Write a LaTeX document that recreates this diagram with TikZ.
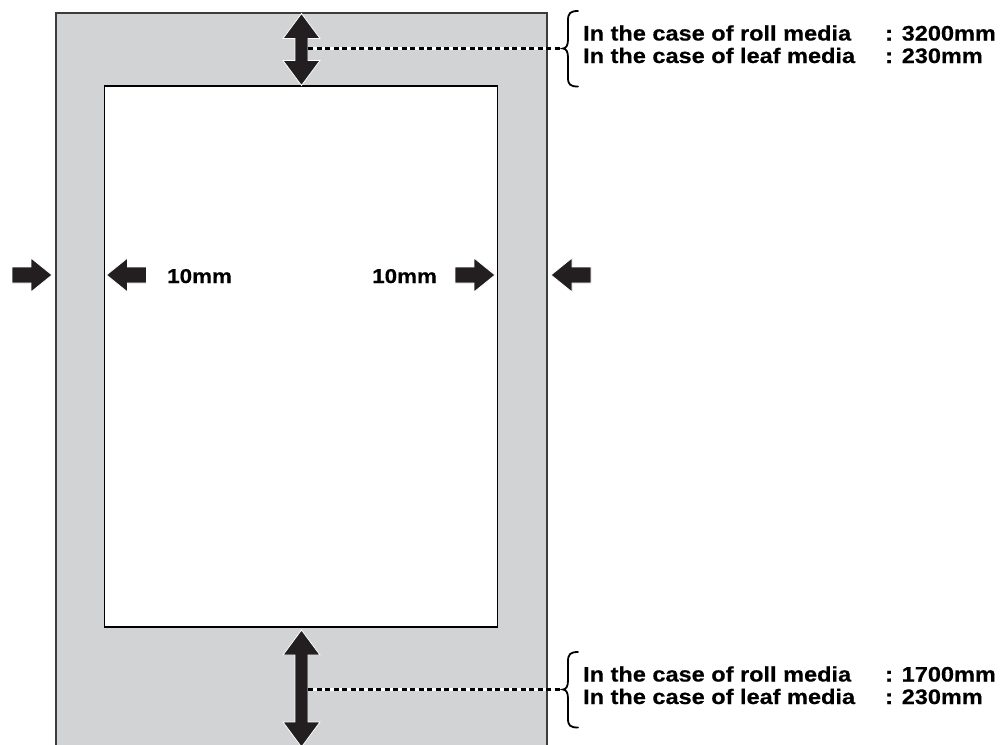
\documentclass[tikz,border=0pt]{standalone}
\usepackage{fontspec}
\setmainfont{Liberation Sans}
\newfontfamily\lblfont[FakeStretch=1.12, FakeBold=0.5]{Liberation Sans}
\usetikzlibrary{positioning, calc}
\definecolor{cMedia}{RGB}{210,211,213}
\definecolor{cEdge}{RGB}{60,60,60}
\definecolor{cArrow}{RGB}{35,31,32}
\tikzset{
	media/.style    ={draw=cEdge, line width=2pt, fill=cMedia},
	printarea/.style={draw=black, line width=1.3pt, fill=white},
	blockarrow/.style={fill=cArrow, draw=white, line width=0.8pt, line join=miter},
	leaderbg/.style ={draw=white, line width=3pt},
	leader/.style   ={draw=black, line width=2.5pt, dash pattern=on 5pt off 3.5pt},
	brace/.style    ={draw=black, line width=1.8pt, line cap=round},
	lbl/.style      ={font=\lblfont\bfseries\fontsize{21}{24}\selectfont, inner sep=0pt, anchor=base west},
	gaplbl/.style   ={lbl, font=\lblfont\bfseries\fontsize{20}{23}\selectfont},
}

\begin{document}
\begin{tikzpicture}[x=1pt, y=-1pt]
	\useasboundingbox (0,0) rectangle (1000,744);
	% media and printable area
	\draw[media] (56,13) rectangle (547,760);
	\draw[printarea] (104.5,86) rectangle (497.5,627);
	% side margins
	\foreach \tip/\side in {52/1, 106.5/-1, 495/1, 551/-1}
		\draw[blockarrow] (\tip,275) -- ++(-21*\side,-17) -- ++(0,9) -- ++(-19*\side,0)
		-- ++(0,16) -- ++(19*\side,0) -- ++(0,9) -- cycle;
	\node[gaplbl] (gapleft)  at (167,283) {10mm};
	\node[gaplbl] (gapright) at (372,283) {10mm};
	% front and rear margins
	\foreach \ya/\yb in {13.5/85.5, 630/747}
		\draw[blockarrow] (301.5,\ya) -- ++(18.5,25) -- ++(-12,0) -- (308,\yb-25) -- ++(12,0)
		-- (301.5,\yb) -- ++(-18.5,-25) -- ++(12,0) -- (295,\ya+25) -- ++(-12,0) -- cycle;
	\foreach \ym/\roll/\nm in {48.5/3200/rear, 689.5/1700/front} {
		\coordinate (shaft-\nm) at (308,\ym);
		\coordinate (tip-\nm) at (563,\ym);
		\draw[leaderbg] (shaft-\nm) -- (tip-\nm);
		\draw[leader] (shaft-\nm) -- (tip-\nm);
		\draw[brace] (578,\ym-37.5) .. controls (570,\ym-37.5) and (568,\ym-35) .. (568,\ym-28)
			-- (568,\ym-9) .. controls (568,\ym-3) and (566,\ym) .. (tip-\nm)
			.. controls (566,\ym) and (568,\ym+3) .. (568,\ym+9)
			-- (568,\ym+29) .. controls (568,\ym+36) and (570,\ym+38) .. (578,\ym+38);
		\node[lbl] (roll-\nm)    at (583,\ym-8)    {In the case of roll media};
		\node[lbl] (rollval-\nm) at (885,\ym-8)    {: \roll mm};
		\node[lbl] (leaf-\nm)    at (583,\ym+14.5) {In the case of leaf media};
		\node[lbl] (leafval-\nm) at (885,\ym+14.5) {: 230mm};
	}
\end{tikzpicture}
\end{document}
